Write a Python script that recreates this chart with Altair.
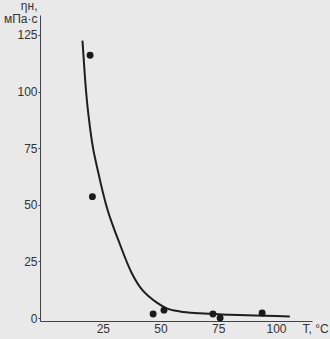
import altair as alt
import pandas as pd

# Measured points
pt_T = [19.5, 20.5, 46.8, 51.5, 72.7, 75.8, 94.0]
pt_eta = [116.0, 53.6, 1.8, 3.5, 1.8, 0.0, 2.2]

# Fitted curve
cv_T = [16.2, 17.7, 20.2, 23.1, 26.7, 31.7, 37.5, 42.0, 45.0, 48.4, 52.7, 58.4, 67.0, 80.0, 95.0, 106.0]
cv_eta = [122.5, 100.7, 78.6, 64.0, 49.0, 34.5, 19.9, 12.5, 9.5, 6.8, 4.3, 2.9, 2.1, 1.5, 1.0, 0.7]

x_ticks = [25, 50, 75, 100]
y_ticks = [0, 25, 50, 75, 100, 125]

pts = pd.DataFrame({"T": pt_T, "eta": pt_eta})
cv = pd.DataFrame({"T": cv_T, "eta": cv_eta})

FONT = "Liberation Sans"

xs = alt.Scale(domain=[-2.2, 115.6], nice=False, zero=False)
ys = alt.Scale(domain=[-1.3, 133.8], nice=False, zero=False)

x_axis = alt.Axis(
    values=x_ticks, grid=False, tickSize=0, labelPadding=2,
    labelFont=FONT, labelFontSize=12, labelColor="#333",
    domainColor="#444", title="T, °C", titleFont=FONT, titleFontSize=12,
    titleFontWeight="normal", titleColor="#333", titleAlign="left",
    titleX=262, titleY=7, titleBaseline="middle", labelFlush=False,
)
y_axis = alt.Axis(
    values=y_ticks, grid=False, tickSize=2, tickColor="#444", labelPadding=1,
    labelFont=FONT, labelFontSize=12, labelColor="#333",
    domainColor="#444", title=["ηн,", "мПа·с"], titleFont=FONT,
    titleFontSize=12, titleFontWeight="normal", titleColor="#333",
    titleAngle=0, titleAlign="right", titleX=-3, titleY=-15,
    titleBaseline="top", titleLineHeight=13, labelFlush=False,
)

line = alt.Chart(cv).mark_line(color="#1e1e1e", strokeWidth=2, interpolate="monotone").encode(
    x=alt.X("T:Q", scale=xs, axis=x_axis),
    y=alt.Y("eta:Q", scale=ys, axis=y_axis),
)
dots = alt.Chart(pts).mark_circle(color="#1a1a1a", size=48, opacity=1).encode(
    x=alt.X("T:Q", scale=xs),
    y=alt.Y("eta:Q", scale=ys),
)

chart = (line + dots).properties(
    width=272, height=306,
    autosize=alt.AutoSizeParams(type="none"),
    padding={"left": 40, "top": 15, "right": 18, "bottom": 18},
    background="#e9e9e9",
).configure_view(stroke=None)

chart.save("out.html", embed_options={"renderer": "svg", "actions": False})
